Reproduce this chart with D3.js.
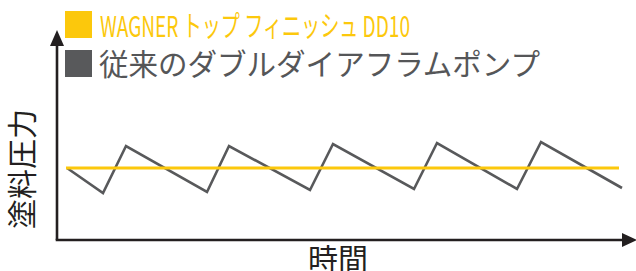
<!DOCTYPE html>
<html>
<head>
<meta charset="utf-8">
<script src="https://cdn.jsdelivr.net/npm/d3@7"></script>
<style>
  body { margin: 0; background: #fff; }
  svg { display: block; }
</style>
</head>
<body>
<script>
// legend / labels
var seriesNames = ["WAGNER トップ フィニッシュ DD10", "従来のダブルダイアフラムポンプ"];
var seriesColors = ["#fcc80c", "#58595b"];
var yLabel = "塗料圧力";
var xLabel = "時間";

// conventional pump: sawtooth pressure (time, pressure)
var pumpTime = [10, 46, 69, 150, 172, 253, 276, 357, 380, 460, 484, 565];
var pumpPressure = [72, 47, 94, 48, 94, 50, 96, 51, 97, 51, 98, 52];

// wagner: flat pressure
var wagnerTime = [9, 562];
var wagnerPressure = [72, 72];

var W = 636, H = 271;

var svg = d3.select("body")
    .append("svg")
    .attr("width", W)
    .attr("height", H);

// scales
var xScale = d3.scaleLinear()
    .domain([0, 579])
    .range([57, 636]);

var yScale = d3.scaleLinear()
    .domain([0, 210])
    .range([240, 30]);

var line = d3.line()
    .x(d => xScale(d[0]))
    .y(d => yScale(d[1]));

// gray sawtooth
svg.append("path")
    .datum(d3.zip(pumpTime, pumpPressure))
    .attr("d", line)
    .attr("fill", "none")
    .attr("stroke", seriesColors[1])
    .attr("stroke-width", 2.6)
    .attr("stroke-linejoin", "miter");

// yellow flat line
svg.append("path")
    .datum(d3.zip(wagnerTime, wagnerPressure))
    .attr("d", line)
    .attr("fill", "none")
    .attr("stroke", seriesColors[0])
    .attr("stroke-width", 3);

// axes with arrows
var axisColor = "#231f20";
var x0 = xScale(0), y0 = yScale(0);

svg.append("line")
    .attr("x1", x0).attr("y1", y0)
    .attr("x2", x0).attr("y2", yScale(195))
    .attr("stroke", axisColor)
    .attr("stroke-width", 2.6);

svg.append("line")
    .attr("x1", x0 - 1.3).attr("y1", y0)
    .attr("x2", xScale(566)).attr("y2", y0)
    .attr("stroke", axisColor)
    .attr("stroke-width", 2.6);

// arrow heads
svg.append("path")
    .attr("d", `M${x0},${yScale(210)} L${x0 - 7},${yScale(194)} L${x0 + 7},${yScale(194)} Z`)
    .attr("fill", axisColor);

svg.append("path")
    .attr("d", `M${xScale(580)},${y0} L${xScale(565)},${y0 - 7} L${xScale(565)},${y0 + 7} Z`)
    .attr("fill", axisColor);

// axis labels
svg.append("text")
    .attr("transform", `translate(33,169) rotate(-90)`)
    .attr("text-anchor", "middle")
    .attr("font-family", "'Noto Sans CJK JP', sans-serif")
    .attr("font-size", 30)
    .attr("fill", axisColor)
    .text(yLabel);

svg.append("text")
    .attr("x", 338)
    .attr("y", 270)
    .attr("text-anchor", "middle")
    .attr("font-family", "'Noto Sans CJK JP', sans-serif")
    .attr("font-size", 30)
    .attr("fill", axisColor)
    .text(xLabel);

// legend
var legend = svg.append("g");

legend.selectAll("rect")
    .data(seriesNames)
    .enter()
    .append("rect")
    .attr("x", 65)
    .attr("y", (d, i) => 11 + i * 39)
    .attr("width", 27)
    .attr("height", 27)
    .attr("fill", (d, i) => seriesColors[i]);

legend.append("text")
    .attr("x", 100)
    .attr("y", 37)
    .attr("font-family", "'Liberation Sans Narrow', 'Noto Sans CJK JP', sans-serif")
    .attr("font-size", 29)
    .attr("fill", seriesColors[0])
    .attr("textLength", 310)
    .attr("lengthAdjust", "spacingAndGlyphs")
    .text(seriesNames[0]);

legend.append("text")
    .attr("x", 99)
    .attr("y", 75)
    .attr("font-family", "'Noto Sans CJK JP', sans-serif")
    .attr("font-size", 30)
    .attr("fill", "#555658")
    .attr("textLength", 441)
    .attr("lengthAdjust", "spacingAndGlyphs")
    .text(seriesNames[1]);
</script>
</body>
</html>
